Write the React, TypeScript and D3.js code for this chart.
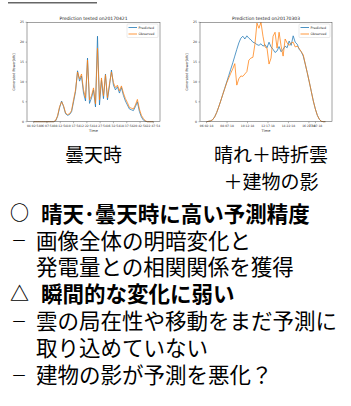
import React from "react";
import * as d3 from "d3";

// ---------- data ----------
const yTickValues = [0, 5, 10, 15, 20, 25];

const leftTitle = "Prediction tested on20170421";
const leftStepMin = 18.75;
const leftPredicted = [
  0, 0, 0, 0, 0, 0, 0, 0, 0, 0, 0,
  0.2, 1.3, 3.5, 5.2, 3.8, 2.0, 1.6, 1.8, 2.5, 5.0,
  7.6, 12.8, 10.2, 11.5, 7.2, 5.2, 16.0, 4.6, 6.0, 8.0,
  3.7, 21.5, 4.2, 10.5, 5.8, 12.0, 5.5, 9.0, 13.0, 9.2,
  8.0, 8.8, 7.2, 8.6, 6.6, 5.2, 4.2, 3.2, 3.0, 2.8,
  3.8, 5.0, 2.6, 1.2, 0.4, 0.1, 0, 0, 0, 0,
];
const leftObserved = [
  0, 0, 0, 0, 0, 0, 0, 0, 0, 0, 0,
  0.3, 1.5, 3.8, 5.0, 4.0, 2.2, 1.8, 2.0, 2.8, 5.5,
  8.0, 12.5, 10.8, 12.0, 8.0, 6.0, 15.5, 5.5, 6.5, 8.5,
  4.5, 18.5, 5.5, 11.0, 6.5, 11.8, 6.0, 9.5, 12.5, 9.8,
  8.6, 9.2, 7.8, 9.0, 7.2, 5.8, 4.8, 3.6, 3.4, 3.2,
  4.2, 5.6, 3.2, 1.6, 0.8, 0.2, 0, 0, 0, 0,
];
const leftTickMinutes = [0, 125, 250, 375, 500, 625, 750, 875, 1000, 1125];
const leftTickLabels = [
  "04:02:54", "06:07:54", "08:12:54", "10:17:54", "12:22:54",
  "14:27:54", "16:32:54", "18:37:54", "20:42:54", "22:47:54",
];

const rightTitle = "Prediction tested on20170303";
const rightStepMin = 12.3;
const rightPredicted = [
  0, 0.1, 0.2, 0.5, 1.2, 2.3, 3.7, 5.2, 6.8, 8.4,
  10.0, 11.6, 13.2, 14.8, 16.5, 18.2, 19.8, 21.0, 21.5, 20.8,
  21.6, 21.0, 20.6, 20.0, 19.8, 19.4, 19.2, 19.6, 19.0, 19.4,
  18.6, 20.0, 18.8, 18.2, 17.4, 17.8, 18.9, 17.6, 18.2, 19.0,
  18.6, 20.3, 19.2, 21.6, 20.0, 19.5, 18.2, 17.6, 16.5, 14.5,
  12.3, 10.0, 7.6, 5.2, 3.2, 1.6, 0.6, 0.1, 0, 0,
];
const rightObserved = [
  0, 0.1, 0.2, 0.5, 1.2, 2.3, 3.7, 5.2, 6.8, 8.3,
  9.8, 11.0, 12.2, 13.3, 14.6, 9.2, 10.8, 11.5, 11.4, 12.0,
  12.6, 15.5, 16.0, 16.2, 19.5, 24.8, 23.5, 25.0, 21.5, 18.8,
  18.5, 14.5, 16.0, 21.5, 22.5, 18.5, 22.5, 19.0, 16.5, 20.8,
  19.8, 19.2, 19.8, 20.0, 18.8, 19.0, 18.4, 17.6, 16.8, 14.5,
  12.3, 10.0, 7.6, 5.2, 3.2, 1.6, 0.6, 0.1, 0, 0,
];
const rightTickMinutes = [0, 125, 250, 375, 500, 625, 665];
const rightTickLabels = [
  "06:02:18", "08:07:18", "10:12:18", "12:17:18", "14:22:18", "16:27:18", "17:07:18",
];

const legendLabels = ["Predicted", "Observed"];
const yAxisLabel = "Generated Power[kW]";
const xAxisLabel = "Time";

const captionLeft = ["曇天時"];
const captionRight = ["晴れ＋時折雲", "＋建物の影"];

const bulletLines = [
  { mark: "○", text: "晴天･曇天時に高い予測精度", bold: true },
  { mark: "－", text: "画像全体の明暗変化と", bold: false },
  { mark: "", text: "発電量との相関関係を獲得", bold: false },
  { mark: "△", text: "瞬間的な変化に弱い", bold: true },
  { mark: "－", text: "雲の局在性や移動をまだ予測に", bold: false },
  { mark: "", text: "取り込めていない", bold: false },
  { mark: "－", text: "建物の影が予測を悪化？", bold: false },
];

const BLUE = "#1f77b4";
const ORANGE = "#ff7f0e";
const MPL_FONT = "'DejaVu Sans', sans-serif";
const CJK_FONT = "'Noto Sans CJK JP', sans-serif";

type ChartProps = {
  left: number;
  right: number;
  title: string;
  step: number;
  predicted: number[];
  observed: number[];
  tickMinutes: number[];
  tickLabels: string[];
};

function Chart({ left, right, title, step, predicted, observed, tickMinutes, tickLabels }: ChartProps) {
  const top = 22.3;
  const bottom = 121.7;
  const n = predicted.length;
  const tMax = (n - 1) * step;
  const pad = (right - left) * 0.05;
  const x = d3.scaleLinear().domain([0, tMax]).range([left + pad, right - pad]);
  const y = d3.scaleLinear().domain([0, 25]).range([bottom, top]);
  const line = d3
    .line<number>()
    .x((_, i) => x(i * step))
    .y((d) => y(d));
  const cx = (left + right) / 2;
  const lgX = right - 33;
  const lgY = 24;
  return (
    <g>
      <text x={cx} y={19.5} textAnchor="middle" fontFamily={MPL_FONT} fontSize={4.5} fill="#222">
        {title}
      </text>
      <path d={line(predicted) || ""} fill="none" stroke={BLUE} strokeWidth={0.75} />
      <path d={line(observed) || ""} fill="none" stroke={ORANGE} strokeWidth={0.75} />
      <rect x={left} y={top} width={right - left} height={bottom - top} fill="none" stroke="#444" strokeWidth={0.5} />
      {yTickValues.map((v) => (
        <g key={v}>
          <line x1={left - 1.5} x2={left} y1={y(v)} y2={y(v)} stroke="#444" strokeWidth={0.4} />
          <text x={left - 3} y={y(v) + 1.1} textAnchor="end" fontFamily={MPL_FONT} fontSize={3.2} fill="#333">
            {v}
          </text>
        </g>
      ))}
      {tickMinutes.map((m, i) => (
        <g key={m}>
          <line x1={x(m)} x2={x(m)} y1={bottom} y2={bottom + 1.5} stroke="#444" strokeWidth={0.4} />
          <text x={x(m)} y={bottom + 5} textAnchor="middle" fontFamily={MPL_FONT} fontSize={3} fill="#333">
            {tickLabels[i]}
          </text>
        </g>
      ))}
      <text x={cx} y={131.5} textAnchor="middle" fontFamily={MPL_FONT} fontSize={3.6} fill="#333">
        {xAxisLabel}
      </text>
      <text
        transform={`translate(${left - 12.5},${(top + bottom) / 2}) rotate(-90)`}
        textAnchor="middle"
        fontFamily={MPL_FONT}
        fontSize={3.4}
        fill="#333"
      >
        {yAxisLabel}
      </text>
      <rect x={lgX} y={lgY} width={31} height={13.5} rx={1} fill="white" fillOpacity={0.85} stroke="#ccc" strokeWidth={0.4} />
      {legendLabels.map((lab, i) => (
        <g key={lab}>
          <line
            x1={lgX + 1.5}
            x2={lgX + 10}
            y1={lgY + 3.5 + i * 6.5}
            y2={lgY + 3.5 + i * 6.5}
            stroke={i === 0 ? BLUE : ORANGE}
            strokeWidth={0.8}
          />
          <text x={lgX + 11.5} y={lgY + 4.7 + i * 6.5} fontFamily={MPL_FONT} fontSize={3.3} fill="#222">
            {lab}
          </text>
        </g>
      ))}
    </g>
  );
}

export default function App() {
  const fsCap = 19;
  const fsBody = 21.5;
  return (
    <svg width={351} height={406} style={{ position: "absolute", left: 0, top: 0, background: "white" }}>
      <rect x={8} y={2} width={89} height={1.5} fill="#666" />
      <Chart
        left={27}
        right={160}
        title={leftTitle}
        step={leftStepMin}
        predicted={leftPredicted}
        observed={leftObserved}
        tickMinutes={leftTickMinutes}
        tickLabels={leftTickLabels}
      />
      <Chart
        left={200}
        right={332}
        title={rightTitle}
        step={rightStepMin}
        predicted={rightPredicted}
        observed={rightObserved}
        tickMinutes={rightTickMinutes}
        tickLabels={rightTickLabels}
      />
      {captionLeft.map((t, i) => (
        <text key={t} x={93.5} y={155 + i * 27 + fsCap * 0.38} textAnchor="middle" fontFamily={CJK_FONT} fontSize={fsCap} fill="#000">
          {t}
        </text>
      ))}
      {captionRight.map((t, i) => (
        <text key={t} x={271} y={155 + i * 27 + fsCap * 0.38} textAnchor="middle" fontFamily={CJK_FONT} fontSize={fsCap} fill="#000">
          {t}
        </text>
      ))}
      {bulletLines.map((l, i) => {
        const yc = 213.5 + i * 26.9;
        const yb = yc + fsBody * 0.38;
        const isDash = l.mark === "－";
        const markSize = isDash ? 16 : 19;
        return (
          <g key={i}>
            {l.mark && (
              <text
                x={isDash ? 11 : 10}
                y={yc + markSize * 0.36}
                fontFamily={CJK_FONT}
                fontSize={markSize}
                fontWeight={isDash ? 400 : 700}
                fill="#000"
              >
                {l.mark}
              </text>
            )}
            <text x={l.bold ? 41 : 36} y={yb} fontFamily={CJK_FONT} fontSize={fsBody} fontWeight={l.bold ? 700 : 400} fill="#000">
              {l.text}
            </text>
          </g>
        );
      })}
    </svg>
  );
}
